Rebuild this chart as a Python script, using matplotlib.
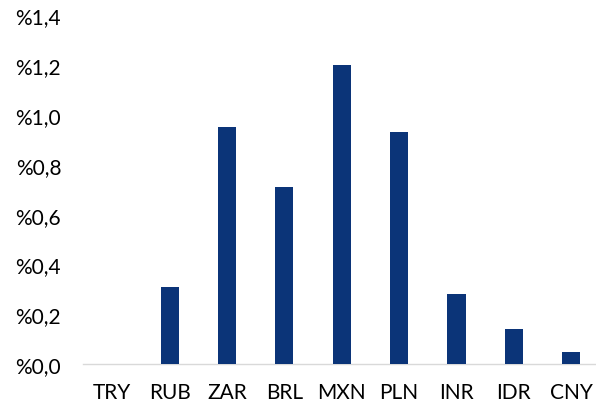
import matplotlib.pyplot as plt
import numpy as np

# currencies and their values (percent)
currencies = ["TRY", "RUB", "ZAR", "BRL", "MXN", "PLN", "INR", "IDR", "CNY"]
values = [0.0, 0.31, 0.95, 0.71, 1.20, 0.93, 0.28, 0.14, 0.05]
yticks = [0.0, 0.2, 0.4, 0.6, 0.8, 1.0, 1.2, 1.4]

BAR_COLOR = "#0B3478"

plt.rcParams["font.family"] = ["Lato", "DejaVu Sans"]

fig = plt.figure(figsize=(5.96, 4.06), dpi=100)
ax = fig.add_axes([0.140, 0.1002, 0.8667, 0.8604])

x = np.arange(len(currencies))
ax.bar(x, values, width=0.314, color=BAR_COLOR, zorder=2)

ax.set_xlim(-0.5, len(currencies) - 0.5)
ax.set_ylim(0, 1.4)
ax.set_xticks(x)
ax.set_xticklabels(currencies)
ax.set_yticks(yticks)
ax.set_yticklabels([f"%{v:.1f}".replace(".", ",") for v in yticks])

for side in ("top", "right", "left"):
    ax.spines[side].set_visible(False)
ax.spines["bottom"].set_color("#D9D9D9")
ax.spines["bottom"].set_linewidth(1.0)
ax.spines["bottom"].set_zorder(1)

ax.tick_params(axis="both", length=0, labelsize=15, colors="black")
ax.tick_params(axis="y", pad=16)
ax.tick_params(axis="x", pad=13)

fig.savefig("out.png", dpi=100)
